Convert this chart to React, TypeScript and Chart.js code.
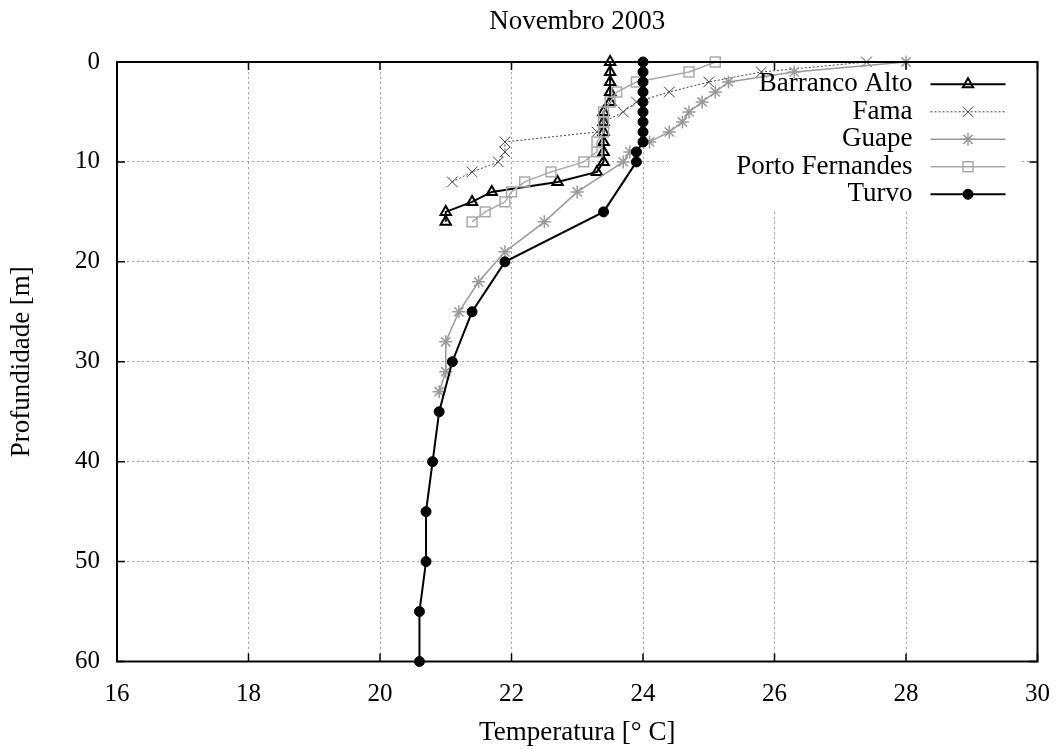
import React, { useEffect, useRef } from 'react';
import { Chart, registerables } from 'chart.js';
import { drawPoint } from 'chart.js/helpers';

Chart.register(...registerables);

// ---- Text ----
const chartTitle = 'Novembro 2003';
const xAxisTitle = 'Temperatura [° C]';
const yAxisTitle = 'Profundidade [m]';

// ---- Axes ----
const xMin = 16;
const xMax = 30;
const xStep = 2;
const yMin = 0;
const yMax = 60;
const yStep = 10;

// ---- Series (depth in m, temperature in °C) ----
const barrancoName = 'Barranco Alto';
const barrancoDepth = [0, 1, 2, 3, 4, 5, 6, 7, 8, 9, 10, 11, 12, 13, 14, 15, 16];
const barrancoTemp = [23.5, 23.5, 23.5, 23.5, 23.5, 23.4, 23.4, 23.4, 23.4, 23.4, 23.4, 23.3, 22.7, 21.7, 21.4, 21.0, 21.0];

const famaName = 'Fama';
const famaDepth = [0, 1, 2, 3, 4, 5, 6, 7, 8, 9, 10, 11, 12];
const famaTemp = [27.4, 25.8, 25.0, 24.4, 23.9, 23.7, 23.4, 23.3, 21.9, 21.9, 21.8, 21.4, 21.1];

const guapeName = 'Guape';
const guapeDepth = [0, 1, 2, 3, 4, 5, 6, 7, 8, 9, 10, 13, 16, 19, 22, 25, 28, 31, 33];
const guapeTemp = [28.0, 26.3, 25.3, 25.1, 24.9, 24.7, 24.6, 24.4, 24.1, 23.8, 23.7, 23.0, 22.5, 21.9, 21.5, 21.2, 21.0, 21.0, 20.9];

const portoName = 'Porto Fernandes';
const portoDepth = [0, 1, 2, 3, 4, 5, 6, 7, 8, 9, 10, 11, 12, 13, 14, 15, 16];
const portoTemp = [25.1, 24.7, 23.9, 23.6, 23.5, 23.4, 23.4, 23.4, 23.3, 23.3, 23.1, 22.6, 22.2, 22.0, 21.9, 21.6, 21.4];

const turvoName = 'Turvo';
const turvoDepth = [0, 1, 2, 3, 4, 5, 6, 7, 8, 9, 10, 15, 20, 25, 30, 35, 40, 45, 50, 55, 60];
const turvoTemp = [24.0, 24.0, 24.0, 24.0, 24.0, 24.0, 24.0, 24.0, 24.0, 23.9, 23.9, 23.4, 21.9, 21.4, 21.1, 20.9, 20.8, 20.7, 20.7, 20.6, 20.6];

const FONT = "'Liberation Serif', 'Times New Roman', serif";

const toPoints = (depth: number[], temp: number[]) =>
  depth.map((d, i) => ({ x: temp[i], y: d }));

// legend layout (relative to chart area)
const LEGEND = {
  boxLeftOffset: 551, // from chartArea.left
  boxRightInset: 17, // from chartArea.right
  boxHeight: 147,
  firstRowOffset: 22.3, // from chartArea.top
  rowGap: 27.5,
  textRightInset: 125, // from chartArea.right
  lineStartInset: 107,
  lineEndInset: 32,
  fontSize: 27,
};

const TITLE = { fontSize: 27, centerY: 21.5 };

const framePlugin = {
  id: 'gnuFrame',
  beforeDatasetsDraw(chart: any) {
    const { ctx, chartArea } = chart;
    ctx.save();
    ctx.fillStyle = '#ffffff';
    ctx.fillRect(
      chartArea.left + LEGEND.boxLeftOffset,
      chartArea.top,
      chartArea.right - LEGEND.boxRightInset - (chartArea.left + LEGEND.boxLeftOffset),
      LEGEND.boxHeight
    );
    ctx.restore();
  },
  afterDatasetsDraw(chart: any) {
    const { ctx, chartArea, scales } = chart;
    const { left, right, top, bottom } = chartArea;
    ctx.save();
    ctx.setLineDash([]);
    ctx.strokeStyle = '#000';
    // inner ticks
    ctx.lineWidth = 1.5;
    const tl = 8;
    ctx.beginPath();
    scales.x.ticks.forEach((t: any) => {
      const px = scales.x.getPixelForValue(t.value);
      ctx.moveTo(px, bottom);
      ctx.lineTo(px, bottom - tl);
      ctx.moveTo(px, top);
      ctx.lineTo(px, top + tl);
    });
    scales.y.ticks.forEach((t: any) => {
      const py = scales.y.getPixelForValue(t.value);
      ctx.moveTo(left, py);
      ctx.lineTo(left + tl, py);
      ctx.moveTo(right, py);
      ctx.lineTo(right - tl, py);
    });
    ctx.stroke();
    // frame
    ctx.lineWidth = 2;
    ctx.strokeRect(left, top, right - left, bottom - top);

    // title
    ctx.fillStyle = '#000';
    ctx.font = `${TITLE.fontSize}px ${FONT}`;
    ctx.textAlign = 'center';
    ctx.textBaseline = 'middle';
    ctx.fillText(chartTitle, (left + right) / 2, TITLE.centerY);

    // legend
    ctx.font = `${LEGEND.fontSize}px ${FONT}`;
    ctx.textAlign = 'right';
    ctx.textBaseline = 'middle';
    chart.data.datasets.forEach((ds: any, i: number) => {
      const y = top + LEGEND.firstRowOffset + i * LEGEND.rowGap;
      ctx.fillStyle = '#000';
      ctx.fillText(ds.label, right - LEGEND.textRightInset, y);
      const x1 = right - LEGEND.lineStartInset;
      const x2 = right - LEGEND.lineEndInset;
      ctx.save();
      ctx.strokeStyle = ds.borderColor;
      ctx.lineWidth = ds.borderWidth;
      ctx.setLineDash(ds.borderDash || []);
      ctx.beginPath();
      ctx.moveTo(x1, y);
      ctx.lineTo(x2, y);
      ctx.stroke();
      ctx.setLineDash([]);
      ctx.fillStyle = ds.pointBackgroundColor;
      ctx.strokeStyle = ds.pointBorderColor;
      ctx.lineWidth = ds.pointBorderWidth;
      drawPoint(
        ctx,
        {
          pointStyle: ds.pointStyle,
          rotation: 0,
          radius: ds.pointRadius,
          borderWidth: ds.pointBorderWidth,
        } as any,
        (x1 + x2) / 2,
        y
      );
      ctx.restore();
    });
    ctx.restore();
  },
};

export default function App() {
  const canvasRef = useRef<HTMLCanvasElement | null>(null);

  useEffect(() => {
    const canvas = canvasRef.current;
    if (!canvas) return;
    const common = { showLine: true, clip: false as any };
    const chart = new Chart(canvas, {
      type: 'scatter',
      data: {
        datasets: [
          {
            ...common,
            label: barrancoName,
            data: toPoints(barrancoDepth, barrancoTemp),
            borderColor: '#000000',
            borderWidth: 2,
            pointStyle: 'triangle',
            pointRadius: 6,
            pointBorderWidth: 2,
            pointBackgroundColor: 'rgba(0,0,0,0)',
            pointBorderColor: '#000000',
            order: 4,
          },
          {
            ...common,
            label: famaName,
            data: toPoints(famaDepth, famaTemp),
            borderColor: '#444444',
            borderWidth: 1,
            borderDash: [2, 2],
            pointStyle: 'crossRot',
            pointRadius: 7.5,
            pointBorderWidth: 1,
            pointBackgroundColor: 'rgba(0,0,0,0)',
            pointBorderColor: '#444444',
            order: 3,
          },
          {
            ...common,
            label: guapeName,
            data: toPoints(guapeDepth, guapeTemp),
            borderColor: '#9a9a9a',
            borderWidth: 1.5,
            pointStyle: 'star',
            pointRadius: 6.5,
            pointBorderWidth: 1.5,
            pointBackgroundColor: 'rgba(0,0,0,0)',
            pointBorderColor: '#9a9a9a',
            order: 2,
          },
          {
            ...common,
            label: portoName,
            data: toPoints(portoDepth, portoTemp),
            borderColor: '#aaaaaa',
            borderWidth: 1.5,
            pointStyle: 'rect',
            pointRadius: 7,
            pointBorderWidth: 1.5,
            pointBackgroundColor: 'rgba(0,0,0,0)',
            pointBorderColor: '#aaaaaa',
            order: 1,
          },
          {
            ...common,
            label: turvoName,
            data: toPoints(turvoDepth, turvoTemp),
            borderColor: '#000000',
            borderWidth: 2,
            pointStyle: 'circle',
            pointRadius: 5,
            pointBorderWidth: 1,
            pointBackgroundColor: '#000000',
            pointBorderColor: '#000000',
            order: 0,
          },
        ],
      },
      options: {
        animation: false,
        responsive: false,
        devicePixelRatio: 1,
        layout: { padding: { left: 0, right: 24.5, top: 62, bottom: 0 } },
        plugins: {
          legend: { display: false },
          tooltip: { enabled: false },
          title: { display: false },
        },
        scales: {
          x: {
            type: 'linear',
            min: xMin,
            max: xMax,
            ticks: {
              stepSize: xStep,
              color: '#000',
              padding: 18,
              font: { family: FONT, size: 25 },
            },
            grid: { color: '#a0a0a0', lineWidth: 1, drawTicks: false },
            border: { display: false, dash: [2, 3] },
            title: {
              display: true,
              text: xAxisTitle,
              color: '#000',
              font: { family: FONT, size: 27 },
              padding: { top: 0, bottom: 0 },
            },
            afterFit: (scale: any) => {
              scale.height = 87.5;
              scale.paddingLeft = 0;
              scale.paddingRight = 0;
            },
          },
          y: {
            type: 'linear',
            reverse: true,
            min: yMin,
            max: yMax,
            ticks: {
              stepSize: yStep,
              color: '#000',
              padding: 17,
              font: { family: FONT, size: 25 },
            },
            grid: { color: '#a0a0a0', lineWidth: 1, drawTicks: false },
            border: { display: false, dash: [2, 3] },
            title: {
              display: true,
              text: yAxisTitle,
              color: '#000',
              font: { family: FONT, size: 27 },
              padding: { top: 6, bottom: 0 },
            },
            afterFit: (scale: any) => {
              scale.width = 117;
              scale.paddingTop = 0;
              scale.paddingBottom = 0;
            },
          },
        },
      },
      plugins: [framePlugin],
    });
    return () => chart.destroy();
  }, []);

  return (
    <div style={{ position: 'fixed', left: 0, top: 0, width: 1062, height: 749, background: '#fff' }}>
      <canvas ref={canvasRef} width={1062} height={749} />
    </div>
  );
}
